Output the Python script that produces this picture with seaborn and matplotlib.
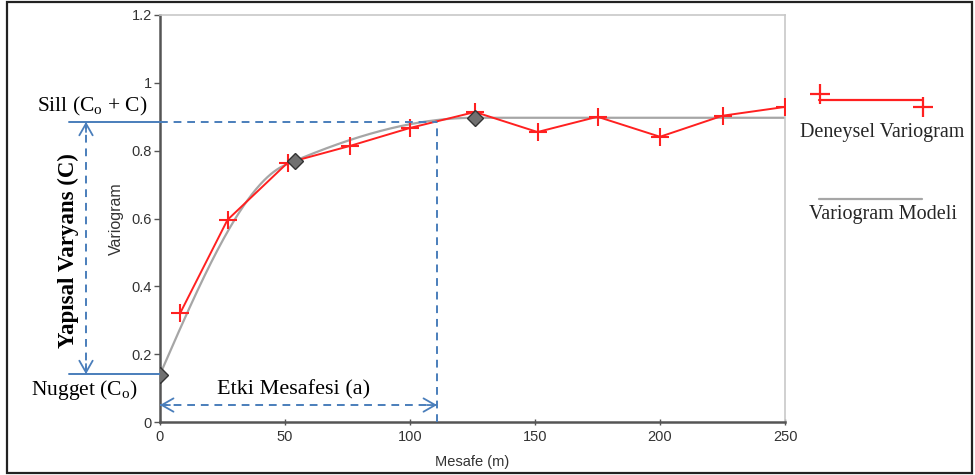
import numpy as np
import pandas as pd
import matplotlib
matplotlib.use("Agg")
import matplotlib.pyplot as plt
from matplotlib.lines import Line2D
from matplotlib.patches import Rectangle
import seaborn as sns

# Experimental variogram
lags = [8, 27, 51, 76, 100, 126, 151, 175, 200, 225, 250]
gamma = [0.320, 0.596, 0.764, 0.814, 0.867, 0.914, 0.855, 0.900, 0.841, 0.903, 0.929]

# Nested spherical model: nugget + two spherical structures
nugget = 0.14
c1, a1 = 0.437, 50.0
c2, a2 = 0.320, 126.0
model_nodes = [0, 54, 126]

# Annotation levels
sill_level = 0.885
nugget_level = 0.141
range_a = 110.8
arrow_y = 0.05

x_ticks = [0, 50, 100, 150, 200, 250]
y_ticks = [0, 0.2, 0.4, 0.6, 0.8, 1.0, 1.2]
y_tick_labels = ["0", "0.2", "0.4", "0.6", "0.8", "1", "1.2"]


def spherical(h, a):
    r = np.clip(np.asarray(h, dtype=float) / a, 0, 1)
    return 1.5 * r - 0.5 * r ** 3


def model(h):
    return nugget + c1 * spherical(h, a1) + c2 * spherical(h, a2)


sns.set_theme(style="white")
plt.rcParams["font.family"] = ["Liberation Sans", "DejaVu Sans"]
plt.rcParams["mathtext.fontset"] = "custom"
plt.rcParams["mathtext.rm"] = "Liberation Serif"
plt.rcParams["mathtext.it"] = "Liberation Serif:italic"

fig = plt.figure(figsize=(9.75, 4.75), dpi=100)
ax = fig.add_axes([160 / 975, 1 - 422 / 475, 625 / 975, 407 / 475])

red = "#ff2020"
h = np.linspace(0, 250, 600)
model_df = pd.DataFrame({"Mesafe": h, "Model": model(h)})
exp_df = pd.DataFrame({"Mesafe": lags, "Variogram": gamma})

sns.lineplot(data=model_df, x="Mesafe", y="Model", color="#a6a6a6", lw=1.6, ax=ax, zorder=2)
sns.lineplot(data=exp_df, x="Mesafe", y="Variogram", color=red, lw=1.4,
             marker="+", markersize=13, markeredgewidth=1.5, markeredgecolor=red,
             markerfacecolor=red, ax=ax, zorder=3)
ax.plot(model_nodes, model(model_nodes), linestyle="none", marker="D", markersize=8.5,
        markerfacecolor="#707070", markeredgecolor="#333333", markeredgewidth=1.0, zorder=5)

ax.set_xlim(0, 250)
ax.set_ylim(0, 1.2)
ax.set_xticks(x_ticks)
ax.set_yticks(y_ticks)
ax.set_yticklabels(y_tick_labels)
ax.tick_params(axis="y", direction="out", length=4, width=1, color="#555555",
               labelsize=10.5, labelcolor="#333333", pad=2, left=True)
ax.tick_params(axis="x", direction="inout", length=5, width=1, color="#555555",
               labelsize=10.5, labelcolor="#333333", pad=3, bottom=True)
for side in ("left", "bottom"):
    ax.spines[side].set_color("#555555")
    ax.spines[side].set_linewidth(1.8)
for side in ("top", "right"):
    ax.spines[side].set_color("#c8c8c8")
    ax.spines[side].set_linewidth(1.2)

ax.set_ylabel("Variogram", fontsize=11.5, color="#333333")
ax.set_xlabel("Mesafe (m)", fontsize=10.5, color="#333333")
ax.yaxis.set_label_coords(-36 / 625, 0.5)
ax.xaxis.set_label_coords(0.5, -33 / 407)

# Annotation layer
blue = "#4a7ebb"
dash = dict(color=blue, lw=1.4, linestyle=(0, (4, 3)), clip_on=False, zorder=4)
head = dict(arrowstyle="->,head_length=0.7,head_width=0.4", color=blue, lw=1.3,
            shrinkA=0, shrinkB=0)
serif = ["Liberation Serif", "DejaVu Serif"]
x_left = -36.4
x_varr = -29.6

# sill and nugget reference lines
ax.plot([x_left, 0], [sill_level, sill_level], color=blue, lw=1.4, clip_on=False, zorder=4)
ax.plot([0, range_a], [sill_level, sill_level], **dash)
ax.plot([x_left, 0], [nugget_level, nugget_level], color=blue, lw=1.4, clip_on=False, zorder=4)
ax.plot([range_a, range_a], [0, sill_level], **dash)

# structural variance arrow
ax.plot([x_varr, x_varr], [nugget_level, sill_level], **dash)
ax.annotate("", xy=(x_varr, sill_level), xytext=(x_varr, sill_level - 0.03),
            arrowprops=head, annotation_clip=False)
ax.annotate("", xy=(x_varr, nugget_level), xytext=(x_varr, nugget_level + 0.03),
            arrowprops=head, annotation_clip=False)

# range arrow
ax.plot([0, range_a], [arrow_y, arrow_y], **dash)
ax.annotate("", xy=(0, arrow_y), xytext=(4, arrow_y), arrowprops=head, annotation_clip=False)
ax.annotate("", xy=(range_a, arrow_y), xytext=(range_a - 4, arrow_y), arrowprops=head,
            annotation_clip=False)

ax.text(-27.2, 0.929, r"Sill (C$_\mathregular{o}$ + C)", family=serif, fontsize=15.5,
        ha="center", va="center", color="black", clip_on=False)
ax.text(-30.2, 0.094, r"Nugget (C$_\mathregular{o}$)", family=serif, fontsize=15.5,
        ha="center", va="center", color="black", clip_on=False)
ax.text(53.3, 0.094, "Etki Mesafesi (a)", family=serif, fontsize=16,
        ha="center", va="center", color="black")
ax.text(-36.8, 0.504, "Yapısal Varyans (C)", family=serif, fontsize=16.5, fontweight="bold",
        rotation=90, ha="center", va="center", color="black", clip_on=False)

# legend
red_line = Line2D([819 / 975, 922 / 975], [1 - 100 / 475, 1 - 100 / 475],
                  transform=fig.transFigure, color=red, lw=1.6)
red_marks = Line2D([820 / 975, 923 / 975], [1 - 94 / 475, 1 - 107 / 475],
                   transform=fig.transFigure, linestyle="none", marker="+",
                   markersize=14, markeredgewidth=1.6, color=red)
gray_line = Line2D([819 / 975, 922 / 975], [1 - 199 / 475, 1 - 199 / 475],
                   transform=fig.transFigure, color="#a6a6a6", lw=1.6)
for artist in (red_line, red_marks, gray_line):
    fig.add_artist(artist)
fig.text(882 / 975, 1 - 133 / 475, "Deneysel Variogram", family=serif, fontsize=14.5,
         ha="center", va="center")
fig.text(883 / 975, 1 - 214 / 475, "Variogram Modeli", family=serif, fontsize=14.5,
         ha="center", va="center")

# frame around the whole figure
fig.add_artist(Rectangle((7 / 975, 2 / 475), 965 / 975, 471 / 475, transform=fig.transFigure,
                         fill=False, edgecolor="#222222", lw=1.6))

fig.savefig("out.png", dpi=100)
